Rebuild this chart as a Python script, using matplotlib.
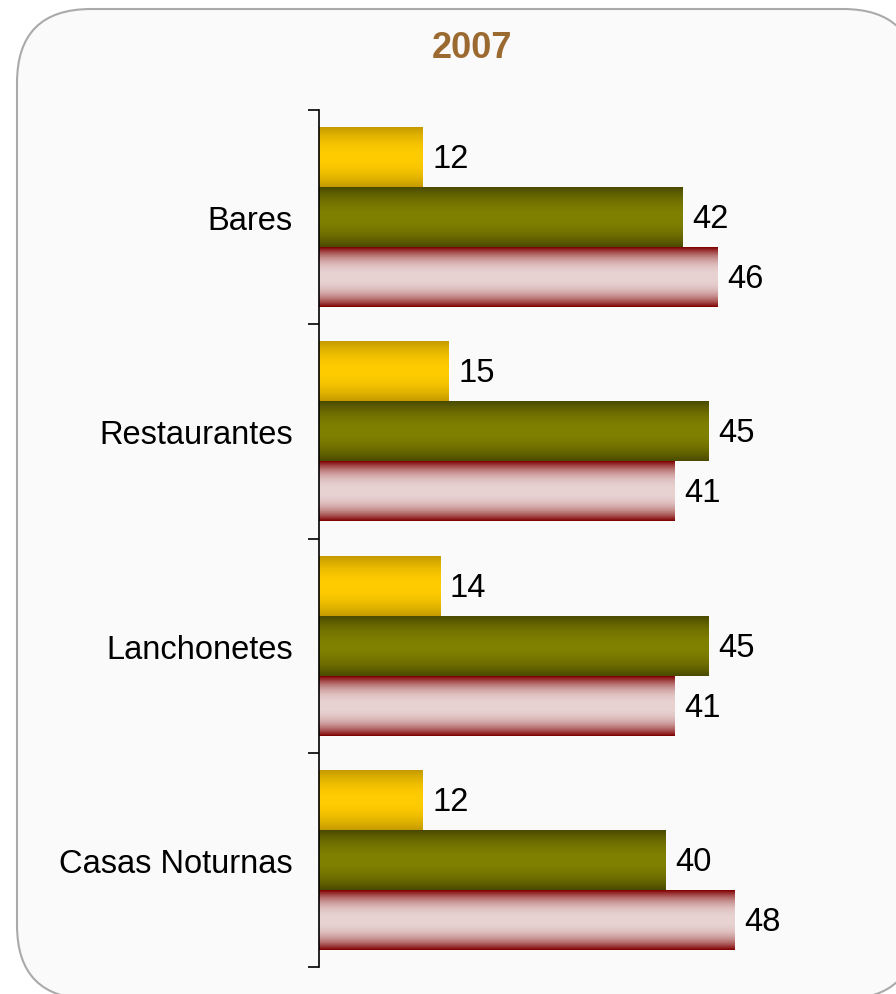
import numpy as np
import matplotlib.pyplot as plt
from matplotlib.patches import FancyBboxPatch
from matplotlib.colors import to_rgb

# ── Dados ─────────────────────────────────────────────────────────────────────
categorias = ['Bares', 'Restaurantes', 'Lanchonetes', 'Casas Noturnas']
serie_amarela = [12, 15, 14, 12]
serie_verde = [42, 45, 45, 40]
serie_rosa = [46, 41, 41, 48]
titulo = '2007'

plt.rcParams['font.family'] = ['Liberation Sans', 'DejaVu Sans']

fig = plt.figure(figsize=(8.96, 9.95), dpi=100)
fig.patch.set_facecolor('white')

# ── Moldura arredondada (eixo de fundo em pixels) ─────────────────────────────
fundo = fig.add_axes([0, 0, 1, 1], zorder=-1)
fundo.set_xlim(0, 896)
fundo.set_ylim(995, 0)
fundo.axis('off')
moldura = FancyBboxPatch((17, 10), 900, 990,
                         boxstyle='round,pad=0,rounding_size=74',
                         facecolor='#FAFAFA', edgecolor='#AAAAAA',
                         linewidth=1.5)
fundo.add_patch(moldura)
fundo.text(472, 49, titulo, ha='center', va='center',
           fontsize=26, fontweight='bold', color='#9B6A30')

# ── Gráfico de barras ─────────────────────────────────────────────────────────
ax = fig.add_axes([319 / 896, 27 / 995, 0.58, 857 / 995])
ax.set_facecolor('none')

y = np.arange(len(categorias))
altura = 0.28

# (cor da borda, cor do centro, expoente do degradê)
estilos = [
    (serie_amarela, -altura, ('#C49A00', '#FFCC00', 2.0)),
    (serie_verde, 0.0, ('#4A4A00', '#808000', 2.0)),
    (serie_rosa, altura, ('#800000', '#E8D2D2', 2.5)),
]

def degrade(borda, centro, expo, n=100):
    t = np.abs(np.linspace(-1, 1, n)) ** expo
    b = np.array(to_rgb(borda))
    c = np.array(to_rgb(centro))
    cores = c[None, :] * (1 - t[:, None]) + b[None, :] * t[:, None]
    return cores[:, None, :]

for valores, desloc, (borda, centro, expo) in estilos:
    barras = ax.barh(y + desloc, valores, height=altura, color='none',
                     edgecolor='none')
    img = degrade(borda, centro, expo)
    for barra, v in zip(barras, valores):
        x0, y0 = barra.get_x(), barra.get_y()
        w, h = barra.get_width(), barra.get_height()
        ax.imshow(img, extent=(x0, x0 + w, y0 + h, y0), aspect='auto',
                  interpolation='bilinear', zorder=2)
        ax.annotate(f'{v}', (x0 + w, y0 + h / 2), xytext=(7, -1),
                    textcoords='offset points', ha='left', va='center',
                    fontsize=23.5, color='black')

ax.set_xlim(0, 60)
ax.set_ylim(len(categorias) - 0.5, -0.5)

ax.set_yticks(y)
ax.set_yticklabels(categorias, fontsize=23.5)
ax.tick_params(axis='y', which='major', length=0, pad=19)
ax.set_yticks(np.arange(len(categorias) + 1) - 0.5, minor=True)
ax.tick_params(axis='y', which='minor', length=8, width=1.2, direction='out')
ax.set_xticks([])

for lado in ['top', 'right', 'bottom']:
    ax.spines[lado].set_visible(False)
ax.spines['left'].set_linewidth(1.2)

fig.savefig('out.png', dpi=100)
